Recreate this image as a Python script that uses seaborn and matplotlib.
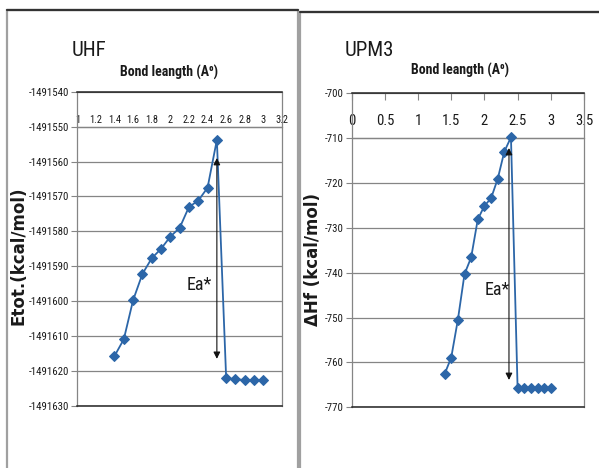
import matplotlib
matplotlib.use("Agg")
import matplotlib.pyplot as plt
from matplotlib.patches import Rectangle
from matplotlib.lines import Line2D
from matplotlib.ticker import FuncFormatter
import matplotlib.font_manager as fm
import seaborn as sns
import pandas as pd

# ---------------------------------------------------------------------
# data
# ---------------------------------------------------------------------
bond_uhf = [1.4, 1.5, 1.6, 1.7, 1.8, 1.9, 2.0, 2.1, 2.2, 2.3, 2.4, 2.5,
            2.6, 2.7, 2.8, 2.9, 3.0]
etot_uhf = [-1491615.7, -1491610.9, -1491599.7, -1491592.2, -1491587.7,
            -1491585.0, -1491581.5, -1491579.0, -1491573.0, -1491571.2,
            -1491567.5, -1491553.8, -1491622.1, -1491622.3, -1491622.6,
            -1491622.6, -1491622.6]

bond_upm3 = [1.4, 1.5, 1.6, 1.7, 1.8, 1.9, 2.0, 2.1, 2.2, 2.3, 2.4, 2.5,
             2.6, 2.7, 2.8, 2.9, 3.0]
dhf_upm3 = [-762.6, -758.9, -750.5, -740.3, -736.6, -728.1, -725.1, -723.4,
            -719.1, -713.0, -709.8, -765.8, -765.8, -765.8, -765.8, -765.8,
            -765.8]

xticks_uhf = [1.0, 1.2, 1.4, 1.6, 1.8, 2.0, 2.2, 2.4, 2.6, 2.8, 3.0, 3.2]
xlabels_uhf = ["1", "1.2", "1.4", "1.6", "1.8", "2", "2.2", "2.4", "2.6",
               "2.8", "3", "3.2"]
yticks_uhf = [-1491630, -1491620, -1491610, -1491600, -1491590, -1491580,
              -1491570, -1491560, -1491550, -1491540]

xticks_upm3 = [0, 0.5, 1.0, 1.5, 2.0, 2.5, 3.0, 3.5]
xlabels_upm3 = ["0", "0.5", "1", "1.5", "2", "2.5", "3", "3.5"]
yticks_upm3 = [-770, -760, -750, -740, -730, -720, -710, -700]

# Ea* arrows: (x, y_top, y_bottom) and label position
ea_uhf = (2.5, -1491559, -1491616.5)
ea_uhf_text = (2.31, -1491595.4)
ea_upm3 = (2.37, -712.2, -763.9)
ea_upm3_text = (2.19, -743.9)

df_uhf = pd.DataFrame({"bond": bond_uhf, "energy": etot_uhf})
df_upm3 = pd.DataFrame({"bond": bond_upm3, "energy": dhf_upm3})

# ---------------------------------------------------------------------
sns.set_style("white")


def pick_narrow():
    names = {f.name for f in fm.fontManager.ttflist}
    for p in ["Liberation Sans Narrow", "Arial Narrow", "Roboto Condensed",
              "Open Sans Condensed", "Noto Sans Condensed", "DejaVu Sans Condensed"]:
        if p in names:
            return p, "normal"
    for f in fm.fontManager.ttflist:
        if f.stretch in ("condensed", "semi-condensed", "extra-condensed"):
            return f.name, f.stretch
    return "Liberation Sans", "normal"


NARROW, STRETCH = pick_narrow()
plt.rcParams["font.family"] = [NARROW, "DejaVu Sans"]
plt.rcParams["font.stretch"] = STRETCH

BLUE = "#2c66a8"
GRID = "#858585"
TXT = "#1a1a1a"

fig = plt.figure(figsize=(5.99, 4.68), dpi=100)

# panel frames
for x0, y0, w in [(0.0117, 0.9786, 0.485), (0.5008, 0.9744, 0.52)]:
    fig.add_artist(Rectangle((x0, -0.05), w, y0 + 0.05, transform=fig.transFigure,
                             fill=False, edgecolor="#a0a0a0", lw=1.6))
    fig.add_artist(Line2D([x0, x0 + w], [y0, y0], transform=fig.transFigure,
                          color="#333333", lw=1.6))

ax1 = fig.add_axes([0.129, 0.1325, 0.3418, 0.6716])
ax2 = fig.add_axes([0.5871, 0.1297, 0.3878, 0.6709])


def style_axes(ax, df, xticks, xlabels, yticks, axis_y, top_ticks, xsize, xpad):
    sns.lineplot(data=df, x="bond", y="energy", ax=ax, color=BLUE, lw=1.3,
                 marker="D", markersize=5.5, markeredgecolor=BLUE, sort=False)
    ax.set_xlim(xticks[0], xticks[-1])
    ax.set_ylim(yticks[0], yticks[-1])
    ax.set_yticks(yticks)
    ax.yaxis.set_major_formatter(FuncFormatter(lambda v, p: f"{v:.0f}"))
    ax.grid(axis="y", color=GRID, lw=0.9)
    ax.set_axisbelow(True)
    ax.tick_params(axis="y", left=True, length=4, width=0.8, color=GRID,
                   labelsize=7.8, labelcolor=TXT, pad=2)
    ax.set_xticks(xticks)
    ax.tick_params(axis="x", bottom=False, labelbottom=False, top=top_ticks,
                   labeltop=False, direction="in", length=5, width=0.8, color=GRID)
    ax.set_xlabel("")
    for side in ["left", "right"]:
        ax.spines[side].set_color(GRID)
        ax.spines[side].set_linewidth(0.9)
    for side in ["top", "bottom"]:
        ax.spines[side].set_color("#222222")
        ax.spines[side].set_linewidth(1.1)
    # x axis crossing at an interior value, labels sitting above it
    sec = ax.secondary_xaxis(axis_y, transform=ax.transData)
    sec.set_alignment("top")
    sec.set_xticks(xticks)
    sec.set_xticklabels(xlabels)
    sec.tick_params(axis="x", length=0, labelsize=xsize, labelcolor=TXT, pad=xpad)
    sec.spines["top"].set_color(GRID)
    sec.spines["top"].set_linewidth(0.9)


style_axes(ax1, df_uhf, xticks_uhf, xlabels_uhf, yticks_uhf, -1491550, False, 7.5, 1)
style_axes(ax2, df_upm3, xticks_upm3, xlabels_upm3, yticks_upm3, -710, True, 10.5, 7)

ax1.set_ylabel("Etot.(kcal/mol)", family="DejaVu Sans", fontweight="bold",
               fontsize=12, color=TXT)
ax1.yaxis.set_label_coords(-0.243, 0.477)
ax2.set_ylabel("ΔHf (kcal/mol)", family="DejaVu Sans", fontweight="bold",
               fontsize=12, color=TXT)
ax2.yaxis.set_label_coords(-0.126, 0.47)

# Ea* double arrows
for ax, (xa, yt, yb), (xt, yt_txt) in [(ax1, ea_uhf, ea_uhf_text),
                                         (ax2, ea_upm3, ea_upm3_text)]:
    ax.annotate("", xy=(xa, yt), xytext=(xa, yb),
                arrowprops=dict(arrowstyle="<|-|>", color="#111111", lw=0.8,
                                mutation_scale=10, shrinkA=0, shrinkB=0))
    ax.text(xt, yt_txt, "Ea*", fontsize=13, color=TXT, ha="center", va="center")

# titles
fig.text(72 / 599, 1 - 51 / 468, "UHF", fontsize=15, color=TXT,
         ha="left", va="center")
fig.text(345 / 599, 1 - 51 / 468, "UPM3", fontsize=15, color=TXT,
         ha="left", va="center")
fig.text(169 / 599, 1 - 72 / 468, "Bond leangth (A⁰)", fontweight="bold",
         fontsize=10, color=TXT, ha="center", va="center")
fig.text(460 / 599, 1 - 70 / 468, "Bond leangth (A⁰)", fontweight="bold",
         fontsize=10, color=TXT, ha="center", va="center")

fig.savefig("out.png", dpi=100)
